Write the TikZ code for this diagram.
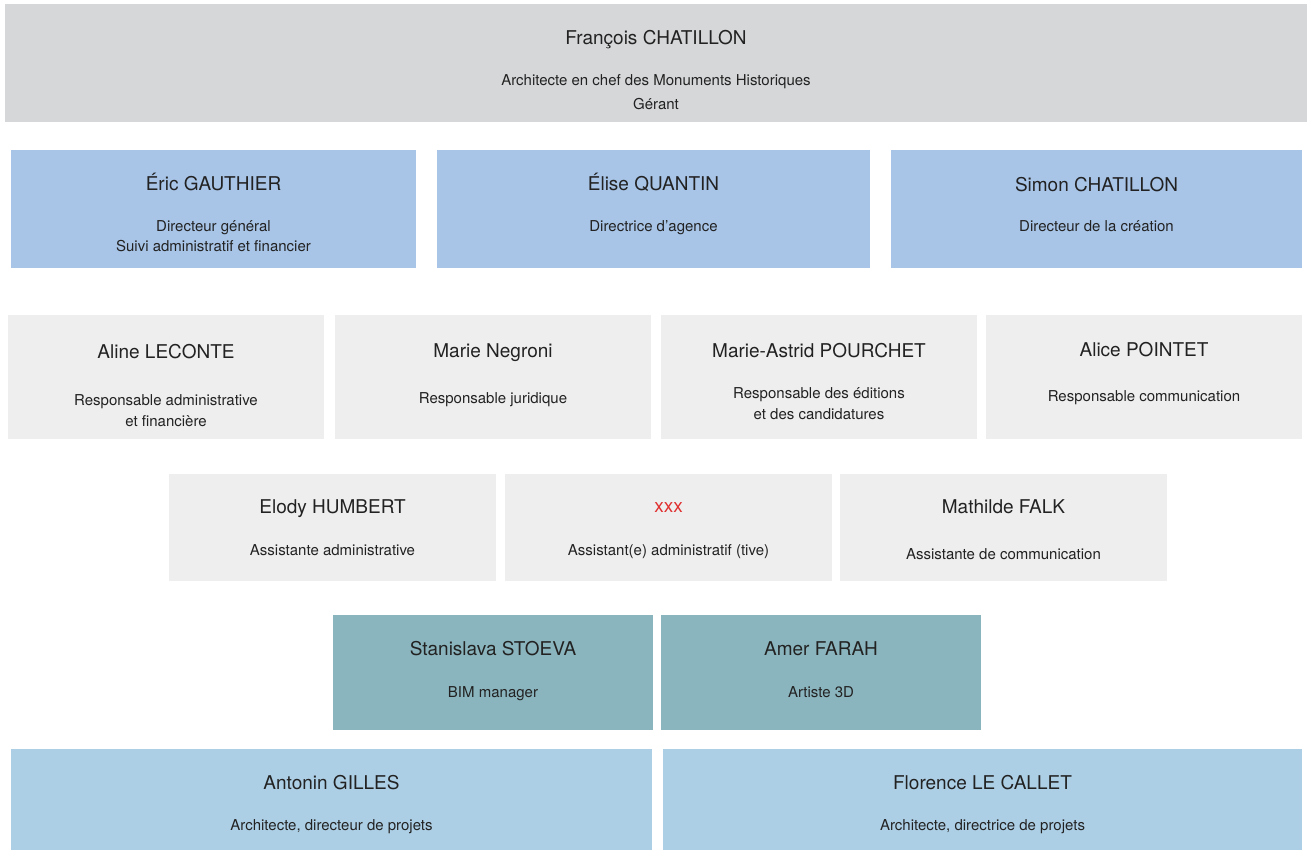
\documentclass[tikz,border=0pt]{standalone}
\usepackage{fontspec}
\setmainfont{TeX Gyre Heros}
\definecolor{headgray}{HTML}{D6D7D9}
\definecolor{leadblue}{HTML}{A8C5E8}
\definecolor{staffgray}{HTML}{EEEEEE}
\definecolor{techteal}{HTML}{8BB5BE}
\definecolor{archblue}{HTML}{ADCFE5}
\definecolor{inkgray}{HTML}{222222}
\definecolor{todored}{HTML}{E03030}
\begin{document}
\begin{tikzpicture}[x=1pt, y=-1pt,
    plainbox/.style = {rectangle, inner sep=0pt, outer sep=0pt},
    headbox/.style = {plainbox, fill=headgray, minimum width=1302pt, minimum height=118pt},
    leadbox/.style = {plainbox, fill=leadblue, minimum height=118pt},
    staffbox/.style = {plainbox, fill=staffgray, minimum width=316pt, minimum height=124pt},
    assistbox/.style = {plainbox, fill=staffgray, minimum width=327pt, minimum height=107pt},
    techbox/.style = {plainbox, fill=techteal, minimum width=320pt, minimum height=115pt},
    archbox/.style = {plainbox, fill=archblue, minimum height=101pt},
    pname/.style = {anchor=base, inner sep=0pt, text=inkgray, font=\fontsize{19}{23}\selectfont},
    prole/.style = {anchor=base, inner sep=0pt, text=inkgray, font=\fontsize{15}{20}\selectfont}]
    \useasboundingbox (0,0) rectangle (1312,850);
    % direction
    \node[headbox] (chatillonf) at (656,63) {};
    \node[pname] (chatillonf-n) at (656,44.5) {François CHATILLON};
    \node[prole] (chatillonf-r1) at (656,86) {Architecte en chef des Monuments Historiques};
    \node[prole] (chatillonf-r2) at (656,110) {Gérant};
    \node[leadbox, minimum width=405pt] (gauthier) at (213.5,209) {};
    \node[pname] (gauthier-n) at (213.5,190.5) {Éric GAUTHIER};
    \node[prole] (gauthier-r1) at (213.5,232) {Directeur général};
    \node[prole] (gauthier-r2) at (213.5,252) {Suivi administratif et financier};
    \node[leadbox, minimum width=433pt] (quantin) at (653.5,209) {};
    \node[pname] (quantin-n) at (653.5,190.5) {Élise QUANTIN};
    \node[prole] (quantin-r) at (653.5,232) {Directrice d'agence};
    \node[leadbox, minimum width=411pt] (chatillons) at (1096.5,209) {};
    \node[pname] (chatillons-n) at (1096.5,191.5) {Simon CHATILLON};
    \node[prole] (chatillons-r) at (1096.5,232) {Directeur de la création};
    % responsables
    \node[staffbox] (leconte) at (166,377) {};
    \node[pname] (leconte-n) at (166,358.5) {Aline LECONTE};
    \node[prole] (leconte-r1) at (166,405) {Responsable administrative};
    \node[prole] (leconte-r2) at (166,426) {et financière};
    \node[staffbox] (negroni) at (493,377) {};
    \node[pname] (negroni-n) at (493,357.5) {Marie Negroni};
    \node[prole] (negroni-r) at (493,403) {Responsable juridique};
    \node[staffbox] (pourchet) at (819,377) {};
    \node[pname] (pourchet-n) at (819,357.5) {Marie-Astrid POURCHET};
    \node[prole] (pourchet-r1) at (819,398) {Responsable des éditions};
    \node[prole] (pourchet-r2) at (819,419) {et des candidatures};
    \node[staffbox] (pointet) at (1144,377) {};
    \node[pname] (pointet-n) at (1144,356.5) {Alice POINTET};
    \node[prole] (pointet-r) at (1144,401) {Responsable communication};
    % assistants
    \node[assistbox] (humbert) at (332.5,527.5) {};
    \node[pname] (humbert-n) at (332.5,513.5) {Elody HUMBERT};
    \node[prole] (humbert-r) at (332.5,555) {Assistante administrative};
    \node[assistbox] (vacant) at (668.5,527.5) {};
    \node[pname, text=todored] (vacant-n) at (668.5,512.5) {xxx};
    \node[prole] (vacant-r) at (668.5,555) {Assistant(e) administratif (tive)};
    \node[assistbox] (falk) at (1003.5,527.5) {};
    \node[pname] (falk-n) at (1003.5,513.5) {Mathilde FALK};
    \node[prole] (falk-r) at (1003.5,559) {Assistante de communication};
    % 3D
    \node[techbox] (stoeva) at (493,672.5) {};
    \node[pname] (stoeva-n) at (493,655.5) {Stanislava STOEVA};
    \node[prole] (stoeva-r) at (493,697) {BIM manager};
    \node[techbox] (farah) at (821,672.5) {};
    \node[pname] (farah-n) at (821,655.5) {Amer FARAH};
    \node[prole] (farah-r) at (821,697) {Artiste 3D};
    % architectes
    \node[archbox, minimum width=641pt] (gilles) at (331.5,799.5) {};
    \node[pname] (gilles-n) at (331.5,789.5) {Antonin GILLES};
    \node[prole] (gilles-r) at (331.5,830.5) {Architecte, directeur de projets};
    \node[archbox, minimum width=639pt] (lecallet) at (982.5,799.5) {};
    \node[pname] (lecallet-n) at (982.5,789.5) {Florence LE CALLET};
    \node[prole] (lecallet-r) at (982.5,830.5) {Architecte, directrice de projets};
\end{tikzpicture}
\end{document}
